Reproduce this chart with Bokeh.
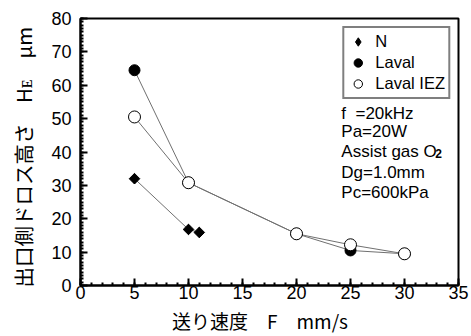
import math
from bokeh.plotting import figure
from bokeh.models import (Range1d, SingleIntervalTicker, Label, Legend, LegendItem)
from bokeh.embed import file_html
from bokeh.resources import INLINE

# ---- data ----
n_speed = [5, 10, 11]
n_height = [32.0, 16.8, 15.9]

laval_speed = [5, 10, 20, 25, 30]
laval_height = [64.5, 30.8, 15.5, 10.5, 9.5]

iez_speed = [5, 10, 20, 25, 30]
iez_height = [50.5, 30.8, 15.5, 12.2, 9.5]

x_ticks_interval = 5
y_ticks_interval = 10

series_names = ["N", "Laval", "Laval IEZ"]
conditions = ["f \u00a0=20kHz", "Pa=20W", "Assist gas O", "Dg=1.0mm", "Pc=600kPa"]
x_title = "送り速度　F　mm/s"
y_title = "出口側ドロス高さ　Hᴇ　μm"

TICK_FONT = "Liberation Sans"
CJK_FONT = "Noto Sans CJK JP"

p = figure(width=471, height=336, output_backend="svg", toolbar_location=None,
           x_range=Range1d(0, 35), y_range=Range1d(0, 80),
           min_border_left=80, min_border_right=13, min_border_top=18, min_border_bottom=49)
p.background_fill_color = "white"
p.border_fill_color = "white"
p.outline_line_color = "black"
p.outline_line_width = 2
p.grid.visible = False

p.xaxis.ticker = SingleIntervalTicker(interval=x_ticks_interval, num_minor_ticks=5)
p.yaxis.ticker = SingleIntervalTicker(interval=y_ticks_interval, num_minor_ticks=10)
for ax in (p.xaxis, p.yaxis):
    ax.axis_line_color = "black"
    ax.axis_line_width = 2
    ax.major_tick_in = 7
    ax.major_tick_out = 0
    ax.minor_tick_in = 3
    ax.minor_tick_out = 0
    ax.major_tick_line_width = 2
    ax.minor_tick_line_width = 2
    ax.major_tick_line_color = "black"
    ax.minor_tick_line_color = "black"
    ax.major_label_text_font = TICK_FONT
    ax.major_label_text_font_size = "18px"
    ax.major_label_text_color = "black"
    ax.axis_label_text_font = CJK_FONT
    ax.axis_label_text_font_style = "normal"
    ax.axis_label_text_color = "black"
p.xaxis.major_label_standoff = 0
p.yaxis.major_label_standoff = 9

p.xaxis.axis_label = x_title + "\u3000"
p.xaxis.axis_label_text_font_size = "19px"
p.xaxis.axis_label_standoff = 5
p.yaxis.axis_label = y_title + "\u2002"
p.yaxis.axis_label_text_font_size = "20.5px"
p.yaxis.axis_label_standoff = 10

# lines
line_color = "#707070"
p.line(n_speed, n_height, line_color=line_color, line_width=1)
p.line(laval_speed, laval_height, line_color=line_color, line_width=1)
p.line(iez_speed, iez_height, line_color=line_color, line_width=1)

# markers (diamond key drawn beneath the rotated squares, used as legend swatch)
r_n_key = p.scatter(n_speed, n_height, marker="diamond", size=10, fill_color="black", line_color="black")
r_n = p.scatter(n_speed, n_height, marker="square", angle=math.pi / 4, size=7.5,
                fill_color="black", line_color="black")
r_l = p.scatter(laval_speed, laval_height, marker="circle", size=11, fill_color="black", line_color="black")
r_i = p.scatter(iez_speed, iez_height, marker="circle", size=12, fill_color="white", line_color="black", line_width=1)

legend = Legend(items=[LegendItem(label=series_names[0], renderers=[r_n_key]),
                       LegendItem(label=series_names[1], renderers=[r_l]),
                       LegendItem(label=series_names[2], renderers=[r_i])],
                location="top_right", margin=8, padding=3, spacing=0,
                label_height=20, glyph_height=21, glyph_width=21, label_standoff=7,
                label_text_font=TICK_FONT, label_text_font_size="16.5px",
                label_text_color="black",
                border_line_color="black", border_line_width=2,
                background_fill_color="white", background_fill_alpha=1)
p.add_layout(legend)

# condition annotations
cond_y = [51.6, 46.1, 40.2, 33.9, 27.9]
for txt, yy in zip(conditions, cond_y):
    p.add_layout(Label(x=24.15, y=yy, text=txt, text_font=TICK_FONT, text_font_size="17px",
                       text_baseline="middle", text_align="left", text_color="black"))
# subscript 2 of O2
p.add_layout(Label(x=24.15, y=40.2, x_offset=94, y_offset=-2, text="2", text_font=TICK_FONT,
                   text_font_size="12px", text_font_style="bold",
                   text_baseline="middle", text_align="left", text_color="black"))

open("out.html", "w").write(file_html(p, INLINE))
